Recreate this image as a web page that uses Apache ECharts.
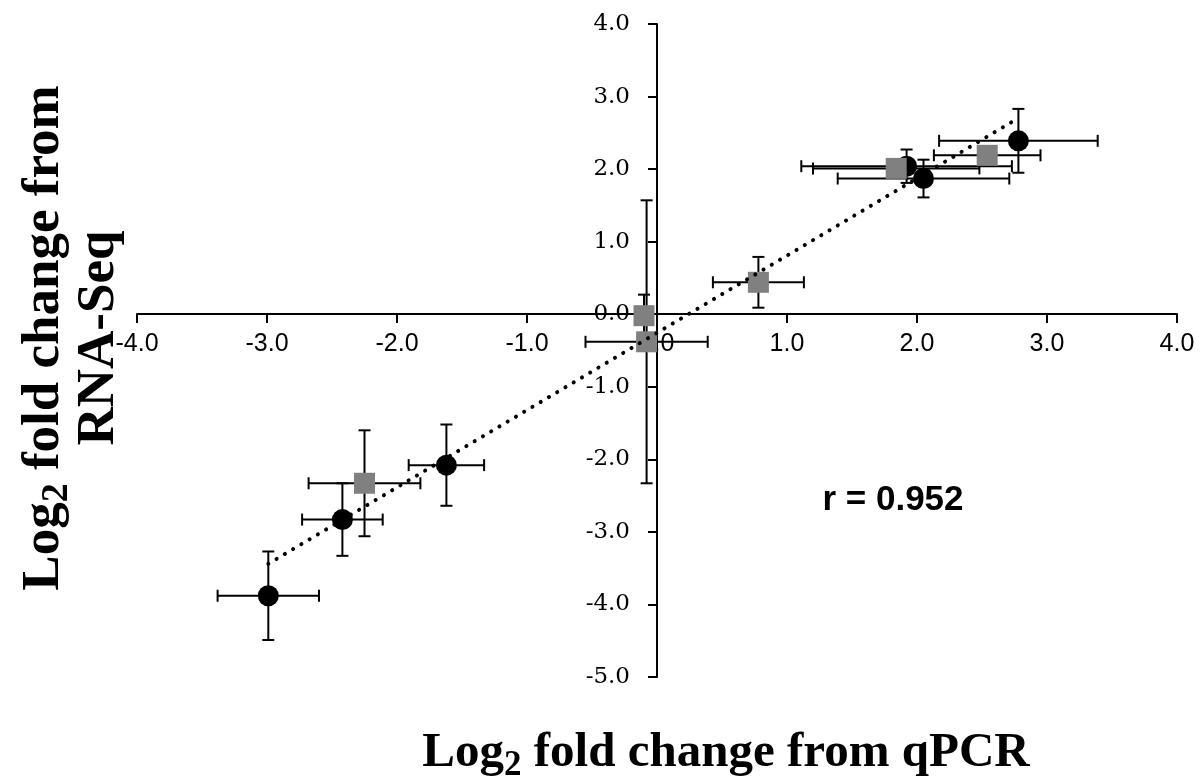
<!DOCTYPE html>
<html><head><meta charset="utf-8">
<script src="https://cdn.jsdelivr.net/npm/echarts@6/dist/echarts.min.js"></script>
<style>html,body{margin:0;padding:0;background:#fff}#c{width:1202px;height:784px}</style>
</head><body><div id="c"></div>
<script>
// Black circles
const circleX    = [2.78, 1.92, 2.05, -1.62, -2.42, -2.99];
const circleY    = [2.39, 2.04, 1.87, -2.08, -2.83, -3.88];
const circleXErr = [0.61, 0.81, 0.66, 0.29, 0.31, 0.39];
const circleYErr = [0.44, 0.23, 0.26, 0.56, 0.50, 0.61];
// Grey squares
const squareX    = [2.54, 1.84, 0.78, -0.10, -0.08, -2.25];
const squareY    = [2.19, 2.01, 0.44, -0.02, -0.38, -2.33];
const squareXErr = [0.41, 0.64, 0.35, 0.05, 0.47, 0.43];
const squareYErr = [0.10, 0.10, 0.35, 0.29, 1.95, 0.73];
// Trend line end points
const trendX = [-2.99, 2.73];
const trendY = [-3.44, 2.65];
const rLabel = 'r = 0.952';

const circleRows = circleX.map((x, i) => [x, circleY[i], circleXErr[i], circleYErr[i]]);
const squareRows = squareX.map((x, i) => [x, squareY[i], squareXErr[i], squareYErr[i]]);

function errRender(params, api) {
  const x = api.value(0), y = api.value(1), ex = api.value(2), ey = api.value(3);
  const l = api.coord([x - ex, y]), r = api.coord([x + ex, y]);
  const t = api.coord([x, y + ey]), b = api.coord([x, y - ey]);
  const cap = 6;
  const st = { stroke: '#000', lineWidth: 2 };
  const ln = (x1, y1, x2, y2) => ({ type: 'line', shape: { x1, y1, x2, y2 }, style: st });
  return {
    type: 'group',
    children: [
      ln(l[0], l[1], r[0], r[1]),
      ln(l[0], l[1] - cap, l[0], l[1] + cap),
      ln(r[0], r[1] - cap, r[0], r[1] + cap),
      ln(t[0], t[1], b[0], b[1]),
      ln(t[0] - cap, t[1], t[0] + cap, t[1]),
      ln(b[0] - cap, b[1], b[0] + cap, b[1])
    ]
  };
}

const xTitleMain = { fontFamily: 'Liberation Serif', fontWeight: 'bold', fontSize: 49, lineHeight: 60, fill: '#000' };
const xTitleSub = { fontFamily: 'Liberation Serif', fontWeight: 'bold', fontSize: 35, lineHeight: 35, verticalAlign: 'bottom', fill: '#000' };
const yTitleMain = { fontFamily: 'Liberation Serif', fontWeight: 'bold', fontSize: 53, lineHeight: 64, fill: '#000' };
const yTitleSub = { fontFamily: 'Liberation Serif', fontWeight: 'bold', fontSize: 38, lineHeight: 38, verticalAlign: 'bottom', fill: '#000' };

const chart = echarts.init(document.getElementById('c'), null, { renderer: 'canvas' });
chart.setOption({
  animation: false,
  backgroundColor: '#fff',
  grid: { left: 137, right: 25, top: 24, bottom: 107, containLabel: false, outerBoundsMode: 'none' },
  xAxis: {
    type: 'value', min: -4, max: 4, interval: 1, position: 'bottom', offset: -363,
    splitLine: { show: false },
    axisLine: { onZero: false, lineStyle: { color: '#000', width: 2 } },
    axisTick: { length: 9, lineStyle: { color: '#000', width: 2 } },
    axisLabel: { color: '#000', fontFamily: 'Liberation Sans', fontSize: 25, margin: 18,
      formatter: v => v.toFixed(1) }
  },
  yAxis: {
    type: 'value', min: -5, max: 4, interval: 1, position: 'left', offset: -520,
    splitLine: { show: false },
    axisLine: { onZero: false, lineStyle: { color: '#000', width: 2 } },
    axisTick: { length: 9, lineStyle: { color: '#000', width: 2 } },
    axisLabel: { color: '#000', fontFamily: 'DejaVu Serif', fontSize: 23, margin: 27,
      formatter: v => v.toFixed(1) }
  },
  series: [
    { type: 'custom', renderItem: errRender, data: circleRows, z: 2 },
    { type: 'custom', renderItem: errRender, data: squareRows, z: 2 },
    { type: 'scatter', data: circleRows.map(r => [r[0], r[1]]), symbol: 'circle', symbolSize: 21,
      itemStyle: { color: '#000', opacity: 1 }, z: 3 },
    { type: 'scatter', data: squareRows.map(r => [r[0], r[1]]), symbol: 'rect', symbolSize: 21,
      itemStyle: { color: '#808080', opacity: 1 }, z: 4 },
    { type: 'line', data: trendX.map((x, i) => [x, trendY[i]]), symbol: 'none', z: 5,
      lineStyle: { color: '#000', width: 4, type: [0.1, 9.5], cap: 'round' } }
  ],
  graphic: [
    { type: 'text', x: 726, y: 753, style: { text: '{m|Log}{s|2}{m| fold change from qPCR}',
      align: 'center', verticalAlign: 'middle', rich: { m: xTitleMain, s: xTitleSub } } },
    { type: 'text', x: 44, y: 338, rotation: Math.PI / 2, style: { text: '{m|Log}{s|2}{m| fold change from}',
      align: 'center', verticalAlign: 'middle', rich: { m: yTitleMain, s: yTitleSub } } },
    { type: 'text', x: 99, y: 338, rotation: Math.PI / 2, style: { text: '{m|RNA-Seq}',
      align: 'center', verticalAlign: 'middle', rich: { m: yTitleMain } } },
    { type: 'text', x: 893, y: 500, style: { text: rLabel, align: 'center', verticalAlign: 'middle',
      fontFamily: 'Liberation Sans', fontWeight: 'bold', fontSize: 35, fill: '#000' } }
  ]
});
</script></body></html>
